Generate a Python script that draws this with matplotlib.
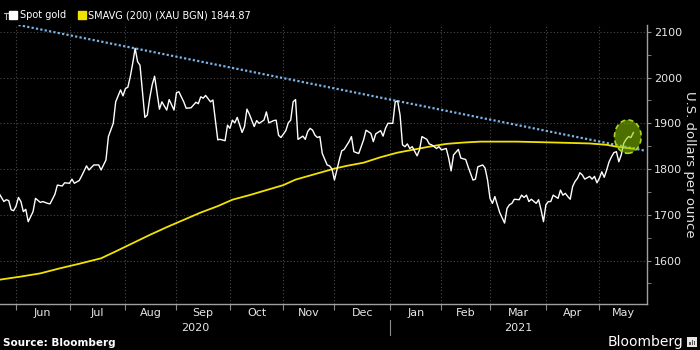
import numpy as np
import pandas as pd
import matplotlib
matplotlib.use("Agg")
import matplotlib.pyplot as plt
import matplotlib.transforms as mtransforms
from matplotlib.lines import Line2D
from matplotlib.patches import Ellipse, Rectangle
from matplotlib.ticker import FixedLocator, MultipleLocator, NullFormatter

START = "2020-05-21"
END = "2021-05-31"

# spot gold: business-day number counted from START, close in USD/oz
spot_day = [0, 2, 3, 4, 5, 6, 7, 8, 9, 10, 11, 12, 14, 15, 17, 18, 20, 21, 23, 24,
            26, 27, 29, 30, 31, 33, 34, 36, 37, 39, 41, 42, 44, 45, 47, 48, 50, 51, 52, 53,
            54, 55, 56, 57, 58, 60, 61, 62, 63, 64, 66, 67, 69, 70, 72, 73, 74, 76, 77, 79,
            81, 82, 83, 84, 85, 87, 88, 89, 90, 91, 93, 94, 95, 96, 97, 98, 100, 101, 102, 103,
            105, 106, 107, 109, 110, 111, 113, 114, 115, 116, 118, 119, 120, 121, 122, 123, 125, 126, 127, 128,
            129, 130, 131, 132, 133, 135, 136, 137, 138, 140, 141, 142, 144, 145, 146, 147, 148, 149, 150, 151,
            153, 154, 155, 157, 158, 159, 160, 162, 163, 164, 165, 166, 167, 168, 169, 170, 172, 173, 174, 176,
            177, 178, 180, 181, 182, 184, 185, 186, 187, 189, 190, 192, 193, 195, 196, 197, 199, 200, 201, 202,
            203, 204, 205, 206, 208, 209, 210, 211, 212, 214, 215, 216, 217, 218, 219, 221, 222, 223, 224, 225,
            226, 227, 228, 230, 231, 232, 233, 234, 235, 236, 237, 238, 239, 240, 241, 243, 244, 245, 246, 247,
            248, 249, 250, 251, 252, 253, 254, 255, 256, 257, 258, 259, 260, 261]
spot_close = [1747, 1729, 1733, 1731, 1711, 1709, 1719, 1738, 1729, 1707, 1712, 1685, 1707, 1736, 1727, 1729, 1725, 1724, 1745, 1765,
              1763, 1770, 1769, 1778, 1769, 1775, 1785, 1807, 1798, 1809, 1809, 1798, 1820, 1871, 1900, 1947, 1973, 1960, 1976, 1979,
              2002, 2031, 2064, 2035, 2027, 1913, 1918, 1955, 1984, 2003, 1931, 1947, 1929, 1952, 1929, 1967, 1969, 1947, 1933, 1934,
              1946, 1943, 1958, 1955, 1961, 1947, 1951, 1907, 1864, 1865, 1862, 1896, 1889, 1907, 1901, 1913, 1880, 1893, 1931, 1920,
              1893, 1906, 1900, 1907, 1925, 1901, 1906, 1907, 1874, 1869, 1884, 1901, 1907, 1947, 1952, 1865, 1872, 1865, 1882, 1889,
              1885, 1874, 1869, 1871, 1834, 1809, 1807, 1800, 1776, 1820, 1840, 1843, 1860, 1871, 1838, 1836, 1834, 1849, 1864, 1885,
              1878, 1860, 1877, 1884, 1872, 1889, 1900, 1900, 1947, 1949, 1918, 1853, 1849, 1855, 1845, 1849, 1829, 1842, 1871, 1865,
              1855, 1853, 1845, 1849, 1842, 1845, 1824, 1796, 1831, 1843, 1824, 1821, 1805, 1776, 1778, 1805, 1809, 1802, 1776, 1736,
              1725, 1740, 1722, 1705, 1682, 1714, 1722, 1725, 1734, 1733, 1743, 1738, 1743, 1729, 1734, 1725, 1733, 1711, 1685, 1722,
              1729, 1729, 1743, 1736, 1754, 1743, 1747, 1740, 1734, 1762, 1773, 1780, 1792, 1787, 1778, 1784, 1778, 1784, 1770, 1780,
              1794, 1782, 1798, 1816, 1827, 1836, 1838, 1816, 1831, 1856, 1865, 1871, 1869, 1880]

# 200-day simple moving average
sma_day = [0, 9, 17, 25, 33, 42, 48, 55, 62, 69, 76, 83, 90, 96, 103, 110, 117, 122, 134, 138,
           143, 150, 157, 164, 170, 177, 184, 191, 198, 206, 213, 229, 243, 250, 254, 260, 261]
sma_value = [1558, 1565, 1572, 1583, 1593, 1605, 1620, 1638, 1656, 1673, 1689, 1705, 1719, 1733, 1743, 1754, 1765, 1777, 1795, 1801,
             1807, 1814, 1826, 1836, 1842, 1849, 1855, 1858, 1860, 1860, 1860, 1858, 1856, 1853, 1849, 1845, 1844.87]
sma_last = 1844.87

# resistance line through the August and January highs
trend_day = [8, 266]
trend_value = [2115, 1840]

years = ["2020", "2021"]

days = pd.bdate_range(START, END)
month_starts = [i for i in range(1, len(days)) if days[i].month != days[i - 1].month]
month_names = [days[i].strftime("%b") for i in month_starts]
x0, x1 = 0.4, 266.6

plt.rcParams["font.family"] = ["DejaVu Sans"]
fig = plt.figure(figsize=(7, 3.5), dpi=100, facecolor="black")
ax = fig.add_axes([0.0, 0.1314, 0.9243, 0.7972], facecolor="black")

ax.plot(trend_day, trend_value, color="#7ab4e8", lw=1.6, ls=(0, (1, 1)), zorder=3)
ax.plot(sma_day, sma_value, color="#f2e200", lw=1.3, zorder=4)
ax.plot(spot_day, spot_close, color="white", lw=1.0, zorder=5)

ax.add_patch(Ellipse((258.7, 1871), 11, 73, facecolor=(0.55, 0.8, 0.0, 0.55),
                     edgecolor="#a8d820", lw=1.2, ls=(0, (3, 2)), zorder=6))

ax.set_xlim(x0, x1)
ax.set_ylim(1505, 2115)

# month boundaries carry the ticks and grid, labels sit mid-month
mids = [(a + b) / 2 for a, b in zip(month_starts, month_starts[1:] + [x1])]
ax.xaxis.set_major_locator(FixedLocator(month_starts))
ax.xaxis.set_major_formatter(NullFormatter())
ax.xaxis.set_minor_locator(FixedLocator(mids))
ax.set_xticklabels(month_names, minor=True)
ax.tick_params(axis="x", which="major", direction="out", length=4, color="#8c8c8c")
ax.tick_params(axis="x", which="minor", length=0, pad=3, labelsize=8, labelcolor="#e6e6e6")

ax.yaxis.tick_right()
ax.yaxis.set_label_position("right")
ax.yaxis.set_major_locator(MultipleLocator(100))
ax.yaxis.set_minor_locator(MultipleLocator(50))
ax.tick_params(axis="y", which="both", direction="out", length=3, color="#8c8c8c",
               labelsize=8, labelcolor="#e6e6e6", pad=2)
ax.set_ylabel("U.S. dollars per ounce", rotation=270, color="#e6e6e6", fontsize=9.5, labelpad=10)

ax.grid(True, which="major", color="#4a4a4a", lw=0.8, ls=(0, (1, 2)))

for side in ["left", "top"]:
    ax.spines[side].set_visible(False)
for side in ["right", "bottom"]:
    ax.spines[side].set_color("#a0a0a0")
    ax.spines[side].set_linewidth(1.0)

# year row under the months
jan = month_starts[month_names.index("Jan")]
trans = mtransforms.blended_transform_factory(ax.transData, ax.transAxes)
ax.text((x0 + jan) / 2, -0.085, years[0], transform=trans, ha="center", va="center",
        fontsize=8, color="#e6e6e6")
ax.text((jan + x1) / 2, -0.085, years[1], transform=trans, ha="center", va="center",
        fontsize=8, color="#e6e6e6")
ax.add_line(Line2D([jan, jan], [-0.057, -0.112], transform=trans, color="#8c8c8c",
                   lw=0.8, clip_on=False))

# small pin glyph ahead of the legend
fig.add_artist(Line2D([0.006, 0.012], [0.962, 0.962], color="#bbbbbb", lw=0.8))
fig.add_artist(Line2D([0.009, 0.009], [0.962, 0.945], color="#bbbbbb", lw=0.8))

handles = [Line2D([], [], ls="none", marker="s", markersize=6, markerfacecolor="white",
                  markeredgecolor="white"),
           Line2D([], [], ls="none", marker="s", markersize=6, markerfacecolor="#f2e200",
                  markeredgecolor="#f2e200")]
fig.legend(handles, ["Spot gold", "SMAVG (200) (XAU BGN) %.2f" % sma_last],
           loc="center left", bbox_to_anchor=(0.014, 0.957), ncol=2, frameon=False,
           fontsize=7, labelcolor="white", handlelength=0.7, handletextpad=0.3,
           columnspacing=1.3, borderaxespad=0, borderpad=0)

fig.text(0.004, 0.02, "Source: Bloomberg", fontsize=7.5, fontweight="bold",
         color="white", va="center", ha="left")
fig.text(0.976, 0.022, "Bloomberg", fontsize=10, color="white", va="center", ha="right")
fig.patches.append(Rectangle((0.982, 0.008), 0.0135, 0.028, transform=fig.transFigure,
                             facecolor="#e6e6e6", edgecolor="none"))
for k, h in enumerate([0.010, 0.016, 0.012]):
    fig.patches.append(Rectangle((0.9845 + k * 0.0035, 0.013), 0.002, h,
                                 transform=fig.transFigure, facecolor="#555555",
                                 edgecolor="none"))

fig.savefig("out.png", dpi=100, facecolor="black")
